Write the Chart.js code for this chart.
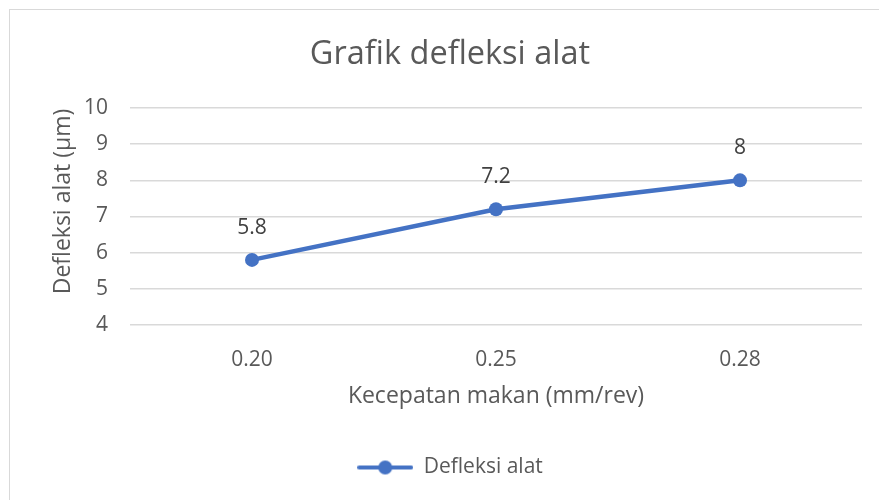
<!DOCTYPE html>
<html>
<head>
<meta charset="utf-8">
<script src="https://cdn.jsdelivr.net/npm/chart.js@4.4.1/dist/chart.umd.min.js"></script>
<style>
  html, body { margin: 0; padding: 0; background: #fff; }
  #wrap { position: relative; width: 879px; height: 500px; overflow: hidden; }
  #frame { position: absolute; left: 9px; top: 9px; width: 900px; height: 520px; border: 1px solid #d9d9d9; box-sizing: border-box; }
  #chart { position: absolute; left: 0; top: 0; }
</style>
</head>
<body>
<div id="wrap">
  <div id="frame"></div>
  <canvas id="chart" width="879" height="500"></canvas>
</div>
<script>
// data
const feedRates = ['0.20', '0.25', '0.28'];
const deflection = [5.8, 7.2, 8];
const yTicks = [4, 5, 6, 7, 8, 9, 10];

const blue = '#4472C4';
const grey = '#595959';
const font = '"Open Sans", sans-serif';

// legend marker: line with a dot in the middle
const marker = document.createElement('canvas');
marker.width = 56;
marker.height = 16;
const mctx = marker.getContext('2d');
mctx.strokeStyle = blue;
mctx.lineWidth = 4;
mctx.lineCap = 'round';
mctx.beginPath();
mctx.moveTo(2, 8);
mctx.lineTo(54, 8);
mctx.stroke();
mctx.fillStyle = blue;
mctx.beginPath();
mctx.arc(28, 8, 7, 0, Math.PI * 2);
mctx.fill();

// value labels above the points + y axis title (sits a bit above the plot middle)
const extraText = {
    id: 'extraText',
    afterDatasetsDraw(chart) {
        const ctx = chart.ctx;
        const meta = chart.getDatasetMeta(0);
        ctx.save();
        ctx.font = '21px ' + font;
        ctx.fillStyle = '#404040';
        ctx.textAlign = 'center';
        ctx.textBaseline = 'middle';
        meta.data.forEach(function (pt, i) {
            ctx.fillText(String(deflection[i]), pt.x, pt.y - 32);
        });

        const area = chart.chartArea;
        ctx.font = '23px ' + font;
        ctx.fillStyle = grey;
        ctx.translate(63, (area.top + area.bottom) / 2 - 15);
        ctx.rotate(-Math.PI / 2);
        ctx.fillText('Defleksi alat (µm)', 0, 0);
        ctx.restore();
    }
};

const canvas = document.getElementById('chart');
new Chart(canvas.getContext('2d'), {
    type: 'line',
    data: {
        labels: feedRates,
        datasets: [{
            label: 'Defleksi alat',
            data: deflection,
            borderColor: blue,
            backgroundColor: blue,
            borderWidth: 4.5,
            pointRadius: 7,
            pointHoverRadius: 7,
            pointBackgroundColor: blue,
            pointBorderWidth: 0,
            tension: 0
        }]
    },
    options: {
        responsive: false,
        animation: false,
        events: [],
        layout: {
            padding: { left: 38, right: 17, top: 0, bottom: 12 }
        },
        plugins: {
            title: {
                display: true,
                text: 'Grafik defleksi alat',
                color: grey,
                font: { family: font, size: 32.5, weight: 'normal' },
                padding: { top: 35.5, bottom: 33.5 }
            },
            legend: {
                position: 'bottom',
                labels: {
                    color: grey,
                    font: { family: font, size: 21 },
                    usePointStyle: true,
                    pointStyleWidth: 56,
                    boxHeight: 16,
                    padding: 10,
                    generateLabels: function () {
                        return [{
                            text: 'Defleksi alat',
                            fontColor: grey,
                            pointStyle: marker,
                            lineWidth: 0,
                            strokeStyle: 'transparent',
                            fillStyle: 'transparent',
                            datasetIndex: 0
                        }];
                    }
                }
            },
            tooltip: { enabled: false }
        },
        scales: {
            x: {
                offset: true,
                grid: { display: false, drawTicks: false },
                border: { display: false },
                ticks: {
                    color: grey,
                    font: { family: font, size: 21 },
                    padding: 22
                },
                title: {
                    display: true,
                    text: 'Kecepatan makan (mm/rev)',
                    color: grey,
                    font: { family: font, size: 23 },
                    padding: { top: 0, bottom: 37 }
                },
                afterFit: function (scale) { scale.height = 122; }
            },
            y: {
                min: 4,
                max: 10,
                afterBuildTicks: function (scale) {
                    scale.ticks = yTicks.map(function (v) { return { value: v }; });
                },
                grid: { color: '#d9d9d9', lineWidth: 1.5, drawTicks: false },
                border: { display: false },
                ticks: {
                    color: grey,
                    font: { family: font, size: 21 },
                    padding: 22
                },
                afterFit: function (scale) { scale.width = 92; }
            }
        }
    },
    plugins: [extraText]
});
</script>
</body>
</html>
